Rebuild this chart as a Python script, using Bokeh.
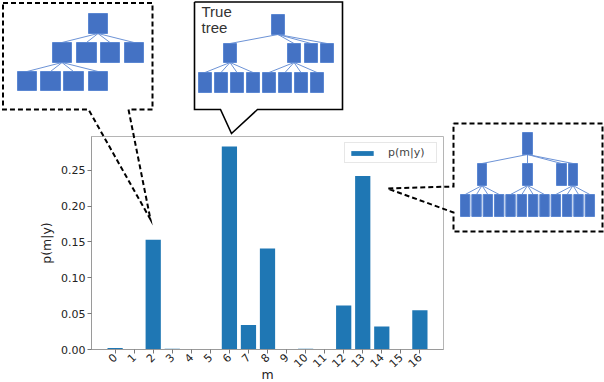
from math import pi
from bokeh.plotting import figure
from bokeh.models import Range1d, FixedTicker, PrintfTickFormatter
from bokeh.core.properties import value
from bokeh.embed import file_html
from bokeh.resources import INLINE

# ---------------- data ----------------
models = list(range(17))
tick_labels = [str(i) for i in models]
posterior = [0.002, 0.0, 0.153, 0.001, 0.0, 0.0, 0.283, 0.034, 0.141,
             0.0, 0.001, 0.0, 0.0615, 0.242, 0.032, 0.0, 0.0546]
y_ticks = [0.0, 0.05, 0.10, 0.15, 0.20, 0.25]
legend_text = "p(m|y)"
x_label = "m"
y_label = "p(m|y)"
note_lines = ["True", "tree"]

# ---------------- figure ----------------
p = figure(width=604, height=382, output_backend="svg", toolbar_location=None, tools="",
           x_range=Range1d(-1.24, 17.24), y_range=Range1d(0, 0.2971),
           min_border_left=91, min_border_right=161, min_border_top=136,
           min_border_bottom=33)
p.background_fill_color = "white"
p.border_fill_color = "white"
p.outline_line_color = "#b5b5b5"
p.xgrid.visible = False
p.ygrid.visible = False

p.vbar(x=models, top=posterior, width=0.8, fill_color="#1f77b4", line_color=None,
       legend_label=legend_text)

p.xaxis.ticker = FixedTicker(ticks=models)
p.xaxis.major_label_overrides = {m: t for m, t in zip(models, tick_labels)}
p.xaxis.major_label_orientation = pi / 4
p.yaxis.ticker = FixedTicker(ticks=y_ticks)
p.yaxis.formatter = PrintfTickFormatter(format="%.2f")
p.yaxis.axis_label = y_label

for ax in (p.xaxis[0], p.yaxis[0]):
    ax.axis_line_color = "#9a9a9a"
    ax.major_tick_line_color = "#777777"
    ax.minor_tick_line_color = None
    ax.major_tick_out = 4
    ax.major_tick_in = 0
    ax.major_label_standoff = 2
    ax.major_label_text_font = "DejaVu Sans"
    ax.major_label_text_font_size = "11px"
    ax.major_label_text_color = "#222222"
    ax.axis_label_text_font = "DejaVu Sans"
    ax.axis_label_text_font_size = "12.5px"
    ax.axis_label_text_font_style = "normal"
    ax.axis_label_text_color = "#222222"
p.yaxis.axis_label_standoff = 4

lg = p.legend[0]
lg.location = "top_right"
lg.margin = 6
lg.padding = 3
lg.spacing = 0
lg.glyph_width = 28
lg.glyph_height = 6
lg.label_height = 10
lg.label_width = 45
lg.label_standoff = 12
lg.label_text_font = "DejaVu Sans"
lg.label_text_font_size = "11px"
lg.border_line_color = "#d0d0d0"
lg.background_fill_alpha = 0.9

# ---------------- decorations in page-pixel coordinates ----------------
# extra ranges map the frame (page px 91..443, 136..349) so that values are page pixels
p.extra_x_ranges = {"px": Range1d(91, 443)}
p.extra_y_ranges = {"px": Range1d(349, 136)}
PX = dict(x_range_name="px", y_range_name="px", level="overlay")

# x-axis label
p.text(x=[267], y=[374], text=[x_label], text_align="center", text_baseline="middle",
       text_font=value("DejaVu Sans"), text_font_size="12.5px", text_color="#222222", **PX)

# callout outlines (closed polylines)
p.line(x=[2.5, 152, 152, 128, 150, 88, 2.5, 2.5], y=[2.5, 2.5, 109, 109, 219, 109, 109, 2.5],
       line_color="black", line_width=2, line_dash="5 3", line_join="miter", **PX)
p.line(x=[453, 602, 602, 453, 453, 387, 453, 453], y=[123, 123, 231, 231, 212, 188, 186, 123],
       line_color="black", line_width=2, line_dash="5 3", line_join="miter", **PX)
p.line(x=[194, 342, 342, 257, 231, 220, 194, 194], y=[1.5, 1.5, 109, 109, 133, 109, 109, 1.5],
       line_color="black", line_width=1.6, line_join="miter", **PX)

BOX_FILL = "#4472c4"
LINK = "#6d93d6"

links = dict(x0=[], y0=[], x1=[], y1=[])
boxes = dict(left=[], right=[], top=[], bottom=[])


def add_tree(levels, children):
    for (lvl, idx), kids in children.items():
        x0, x1, y0, y1 = levels[lvl][idx]
        for k in kids:
            k0, k1, ky0, _ = levels[lvl + 1][k]
            links["x0"].append((x0 + x1) / 2)
            links["y0"].append(y1)
            links["x1"].append((k0 + k1) / 2)
            links["y1"].append(ky0)
    for lvl in levels:
        for (x0, x1, y0, y1) in lvl:
            boxes["left"].append(x0)
            boxes["right"].append(x1)
            boxes["top"].append(y0)
            boxes["bottom"].append(y1)


# tree 1 (left callout)
add_tree([
    [(88, 107, 13, 33)],
    [(52, 71, 42, 62), (76, 96, 42, 62), (100, 119, 42, 62), (124, 143, 42, 62)],
    [(17, 36, 71, 90), (40, 60, 71, 90), (63, 83, 71, 90), (88, 107, 71, 90)],
], {(0, 0): [0, 1, 2, 3], (1, 0): [0, 1, 2, 3]})

# tree 2 (true tree)
add_tree([
    [(271, 284, 14, 34)],
    [(223, 236, 43, 62), (287, 300, 43, 62), (304, 317, 43, 62), (320, 333, 43, 62)],
    [(198 + 16 * i, 211 + 16 * i, 72, 92) for i in range(8)],
], {(0, 0): [0, 1, 2, 3], (1, 0): [0, 1, 2, 3], (1, 1): [4, 5, 6, 7]})

# tree 3 (right callout)
add_tree([
    [(522, 532, 132, 154)],
    [(477, 486, 163, 185), (522, 532, 163, 185), (556, 566, 163, 185), (568, 577, 163, 185)],
    [(460 + 11.33 * i, 469.4 + 11.33 * i, 194, 216) for i in range(12)],
], {(0, 0): [0, 1, 2, 3], (1, 0): [0, 1, 2, 3], (1, 1): [4, 5, 6, 7],
    (1, 3): [8, 9, 10, 11]})

p.segment(x0="x0", y0="y0", x1="x1", y1="y1", source=links, line_color=LINK,
          line_width=1, **PX)
p.quad(left="left", right="right", top="top", bottom="bottom", source=boxes,
       fill_color=BOX_FILL, line_color="#5b87d2", line_width=1, **PX)

p.text(x=[201, 201], y=[11, 27], text=note_lines, text_baseline="middle",
       text_font=value("Liberation Sans"), text_font_size="15px", text_color="#333333", **PX)

open("out.html", "w").write(file_html(p, INLINE))
